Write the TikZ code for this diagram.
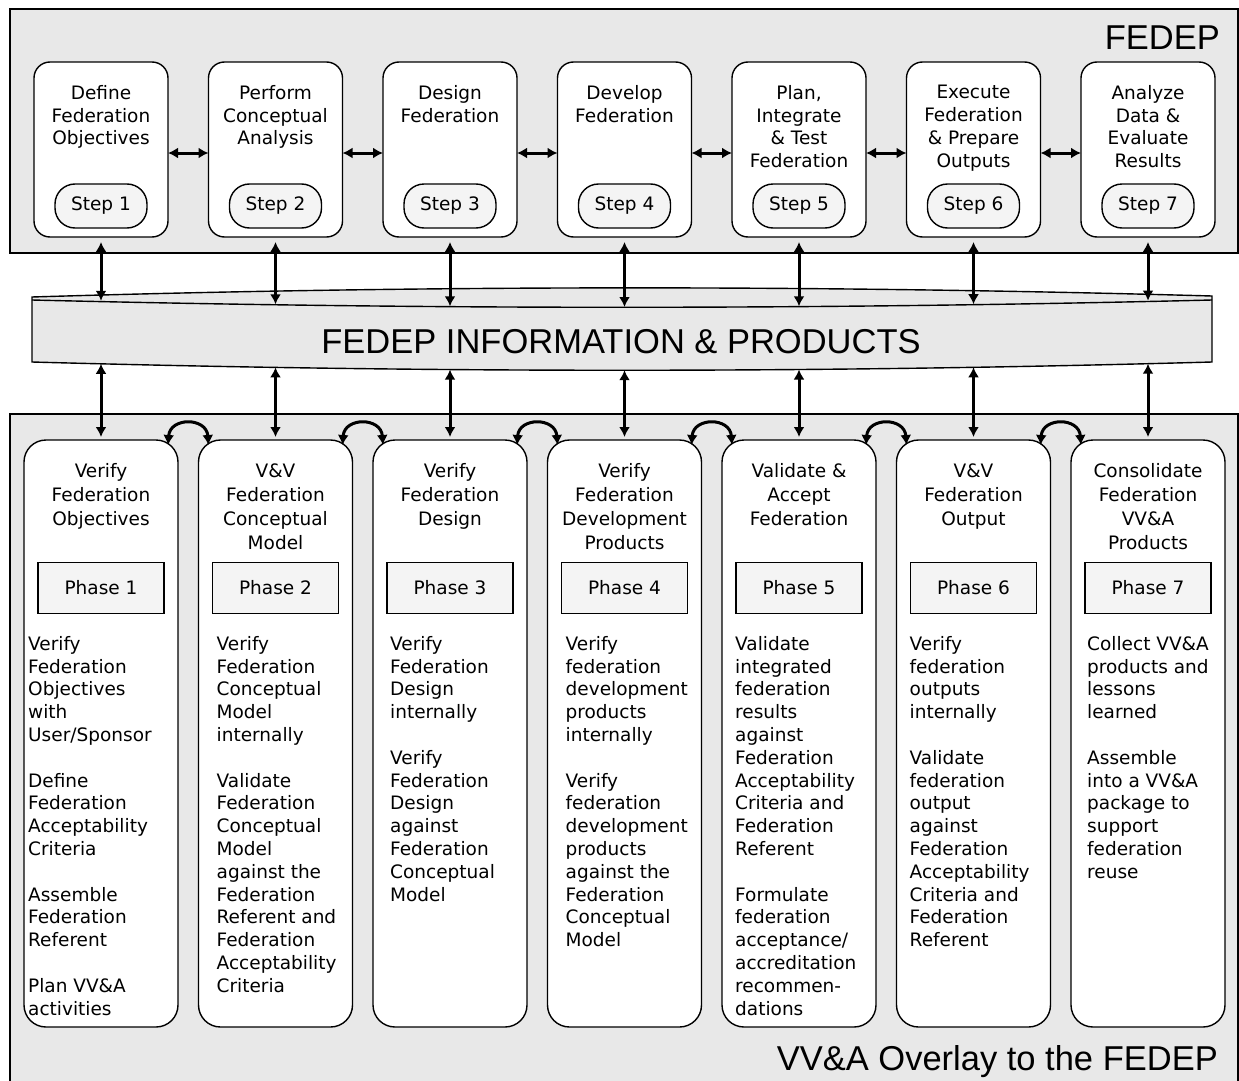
\documentclass[tikz,border=0pt]{standalone}
\usepackage{fontspec}
\setmainfont{DejaVu Sans}
\newfontfamily\bigfont{Liberation Sans}
\usetikzlibrary{positioning,arrows.meta}
\definecolor{panelgray}{HTML}{E8E8E8}
\definecolor{boxgray}{HTML}{F4F4F4}

\begin{document}
\begin{tikzpicture}[
    x=1pt, y=-1pt,
    >={Latex[length=10pt,width=11pt]},
    font=\fontsize{18.5}{22.8}\selectfont,
    panel/.style={rectangle, draw=black, line width=1.5pt, fill=panelgray, outer sep=0pt},
    stepbox/.style={rectangle, rounded corners=16pt, draw=black, line width=1.4pt, fill=white, outer sep=0pt, minimum width=134pt, minimum height=175pt},
    pill/.style={rectangle, rounded corners=20pt, draw=black, line width=1.4pt, fill=boxgray, outer sep=0pt, minimum width=92pt, minimum height=44pt, inner sep=0pt},
    phasecol/.style={rectangle, rounded corners=22pt, draw=black, line width=1.4pt, fill=white, outer sep=0pt, minimum width=154pt, minimum height=587pt},
    phasebox/.style={rectangle, draw=black, line width=1.4pt, fill=boxgray, outer sep=0pt, minimum width=126pt, minimum height=51pt, inner sep=0pt},
    steptext/.style={align=center, inner sep=0pt},
    coltext/.style={align=center, inner sep=0pt, font=\fontsize{18.5}{24}\selectfont},
    bodytext/.style={align=left, inner sep=0pt, anchor=north west},
    bigtext/.style={inner sep=0pt, font=\bigfont\fontsize{34.5}{40}\selectfont},
    link/.style={<->, line width=3pt}
  ]
    \useasboundingbox (0,0) rectangle (1239,1081);
    \clip (0,0) rectangle (1239,1081);

    % FEDEP panel
    \node[panel, minimum width=1228pt, minimum height=244pt] (fedep) at (624,131) {};
    \node[bigtext, anchor=east] (fedeplabel) at (1220,38) {FEDEP};

    \node[stepbox] (s1) at (101,149.5) {};
    \node[stepbox, right=40.5pt of s1] (s2) {};
    \node[stepbox, right=40.5pt of s2] (s3) {};
    \node[stepbox, right=40.5pt of s3] (s4) {};
    \node[stepbox, right=40.5pt of s4] (s5) {};
    \node[stepbox, right=40.5pt of s5] (s6) {};
    \node[stepbox, right=40.5pt of s6] (s7) {};

    \node[steptext, below=23pt of s1.north] (t1) {Define\\Federation\\Objectives};
    \node[steptext, below=23pt of s2.north] (t2) {Perform\\Conceptual\\Analysis};
    \node[steptext, below=23pt of s3.north] (t3) {Design\\Federation};
    \node[steptext, below=23pt of s4.north] (t4) {Develop\\Federation};
    \node[steptext, below=23pt of s5.north] (t5) {Plan,\\Integrate\\\& Test\\Federation};
    \node[steptext, below=23pt of s6.north] (t6) {Execute\\Federation\\\& Prepare\\Outputs};
    \node[steptext, below=23pt of s7.north] (t7) {Analyze\\Data \&\\Evaluate\\Results};

    \node[pill, above=9pt of s1.south] (p1) {Step 1};
    \node[pill, above=9pt of s2.south] (p2) {Step 2};
    \node[pill, above=9pt of s3.south] (p3) {Step 3};
    \node[pill, above=9pt of s4.south] (p4) {Step 4};
    \node[pill, above=9pt of s5.south] (p5) {Step 5};
    \node[pill, above=9pt of s6.south] (p6) {Step 6};
    \node[pill, above=9pt of s7.south] (p7) {Step 7};

    \draw[link] ([yshift=-3.5pt]s1.east) -- ([yshift=-3.5pt]s2.west);
    \draw[link] ([yshift=-3.5pt]s2.east) -- ([yshift=-3.5pt]s3.west);
    \draw[link] ([yshift=-3.5pt]s3.east) -- ([yshift=-3.5pt]s4.west);
    \draw[link] ([yshift=-3.5pt]s4.east) -- ([yshift=-3.5pt]s5.west);
    \draw[link] ([yshift=-3.5pt]s5.east) -- ([yshift=-3.5pt]s6.west);
    \draw[link] ([yshift=-3.5pt]s6.east) -- ([yshift=-3.5pt]s7.west);

    % VV&A overlay panel
    \node[panel, minimum width=1228pt, minimum height=700pt] (overlay) at (624,764) {};
    \node[bigtext, anchor=base east] (vvalabel) at (1218,1070) {VV\&A Overlay to the FEDEP};

    % information band
    \path[draw=black, line width=1.4pt, fill=panelgray]
      (32,362) -- (32,297) .. controls (425,285) and (819,285) .. (1212,296)
      -- (1212,362) .. controls (819,373) and (425,373) .. (32,362) -- cycle;
    \draw[line width=1.4pt] (32,300) .. controls (425,309.7) and (819,309.7) .. (1212,300);
    \node[bigtext] (info) at (621,342) {FEDEP INFORMATION \& PRODUCTS};

    \coordinate (bt1) at (s1.south |- 0,300.8);
    \coordinate (bt2) at (s2.south |- 0,304.3);
    \coordinate (bt3) at (s3.south |- 0,306.3);
    \coordinate (bt4) at (s4.south |- 0,307);
    \coordinate (bt5) at (s5.south |- 0,306.3);
    \coordinate (bt6) at (s6.south |- 0,304.2);
    \coordinate (bt7) at (s7.south |- 0,300.6);
    \coordinate (bb1) at (s1.south |- 0,363.8);
    \coordinate (bb2) at (s2.south |- 0,367.4);
    \coordinate (bb3) at (s3.south |- 0,369.6);
    \coordinate (bb4) at (s4.south |- 0,370.2);
    \coordinate (bb5) at (s5.south |- 0,369.5);
    \coordinate (bb6) at (s6.south |- 0,367.3);
    \coordinate (bb7) at (s7.south |- 0,363.7);

    \draw[link] ([yshift=-5pt]s1.south) -- (bt1);
    \draw[link] ([yshift=-5pt]s2.south) -- (bt2);
    \draw[link] ([yshift=-5pt]s3.south) -- (bt3);
    \draw[link] ([yshift=-5pt]s4.south) -- (bt4);
    \draw[link] ([yshift=-5pt]s5.south) -- (bt5);
    \draw[link] ([yshift=-5pt]s6.south) -- (bt6);
    \draw[link] ([yshift=-5pt]s7.south) -- (bt7);

    % phase columns
    \node[phasecol] (c1) at (101,733.5) {};
    \node[phasecol, right=20.5pt of c1] (c2) {};
    \node[phasecol, right=20.5pt of c2] (c3) {};
    \node[phasecol, right=20.5pt of c3] (c4) {};
    \node[phasecol, right=20.5pt of c4] (c5) {};
    \node[phasecol, right=20.5pt of c5] (c6) {};
    \node[phasecol, right=20.5pt of c6] (c7) {};

    \draw[link] (bb1) -- ([yshift=3pt]c1.north);
    \draw[link] (bb2) -- ([yshift=3pt]c2.north);
    \draw[link] (bb3) -- ([yshift=3pt]c3.north);
    \draw[link] (bb4) -- ([yshift=3pt]c4.north);
    \draw[link] (bb5) -- ([yshift=3pt]c5.north);
    \draw[link] (bb6) -- ([yshift=3pt]c6.north);
    \draw[link] (bb7) -- ([yshift=3pt]c7.north);

    \draw[link] ([xshift=-10pt,yshift=-5pt]c1.north east) .. controls +(2,-28) and +(-2,-28) .. ([xshift=10pt,yshift=-5pt]c2.north west);
    \draw[link] ([xshift=-10pt,yshift=-5pt]c2.north east) .. controls +(2,-28) and +(-2,-28) .. ([xshift=10pt,yshift=-5pt]c3.north west);
    \draw[link] ([xshift=-10pt,yshift=-5pt]c3.north east) .. controls +(2,-28) and +(-2,-28) .. ([xshift=10pt,yshift=-5pt]c4.north west);
    \draw[link] ([xshift=-10pt,yshift=-5pt]c4.north east) .. controls +(2,-28) and +(-2,-28) .. ([xshift=10pt,yshift=-5pt]c5.north west);
    \draw[link] ([xshift=-10pt,yshift=-5pt]c5.north east) .. controls +(2,-28) and +(-2,-28) .. ([xshift=10pt,yshift=-5pt]c6.north west);
    \draw[link] ([xshift=-10pt,yshift=-5pt]c6.north east) .. controls +(2,-28) and +(-2,-28) .. ([xshift=10pt,yshift=-5pt]c7.north west);

    \node[coltext, below=23.5pt of c1.north] (h1) {Verify\\Federation\\Objectives};
    \node[coltext, below=23.5pt of c2.north] (h2) {V\&V\\Federation\\Conceptual\\Model};
    \node[coltext, below=23.5pt of c3.north] (h3) {Verify\\Federation\\Design};
    \node[coltext, below=23.5pt of c4.north] (h4) {Verify\\Federation\\Development\\Products};
    \node[coltext, below=23.5pt of c5.north] (h5) {Validate \&\\Accept\\Federation};
    \node[coltext, below=23.5pt of c6.north] (h6) {V\&V\\Federation\\Output};
    \node[coltext, below=23.5pt of c7.north] (h7) {Consolidate\\Federation\\VV\&A\\Products};

    \node[phasebox, below=122.5pt of c1.north] (ph1) {Phase 1};
    \node[phasebox, below=122.5pt of c2.north] (ph2) {Phase 2};
    \node[phasebox, below=122.5pt of c3.north] (ph3) {Phase 3};
    \node[phasebox, below=122.5pt of c4.north] (ph4) {Phase 4};
    \node[phasebox, below=122.5pt of c5.north] (ph5) {Phase 5};
    \node[phasebox, below=122.5pt of c6.north] (ph6) {Phase 6};
    \node[phasebox, below=122.5pt of c7.north] (ph7) {Phase 7};

    \node[bodytext] (b1) at ([xshift=4pt,yshift=-196pt]c1.north west)
      {Verify\\Federation\\Objectives\\with\\User/Sponsor\\[22.8pt]Define\\Federation\\Acceptability\\Criteria\\[22.8pt]Assemble\\Federation\\Referent\\[22.8pt]Plan VV\&A\\activities};
    \node[bodytext] (b2) at ([xshift=18pt,yshift=-196pt]c2.north west)
      {Verify\\Federation\\Conceptual\\Model\\internally\\[22.8pt]Validate\\Federation\\Conceptual\\Model\\against the\\Federation\\Referent and\\Federation\\Acceptability\\Criteria};
    \node[bodytext] (b3) at ([xshift=17pt,yshift=-196pt]c3.north west)
      {Verify\\Federation\\Design\\internally\\[22.8pt]Verify\\Federation\\Design\\against\\Federation\\Conceptual\\Model};
    \node[bodytext] (b4) at ([xshift=18pt,yshift=-196pt]c4.north west)
      {Verify\\federation\\development\\products\\internally\\[22.8pt]Verify\\federation\\development\\products\\against the\\Federation\\Conceptual\\Model};
    \node[bodytext] (b5) at ([xshift=13pt,yshift=-196pt]c5.north west)
      {Validate\\integrated\\federation\\results\\against\\Federation\\Acceptability\\Criteria and\\Federation\\Referent\\[22.8pt]Formulate\\federation\\acceptance/\\accreditation\\recommen-\\dations};
    \node[bodytext] (b6) at ([xshift=13pt,yshift=-196pt]c6.north west)
      {Verify\\federation\\outputs\\internally\\[22.8pt]Validate\\federation\\output\\against\\Federation\\Acceptability\\Criteria and\\Federation\\Referent};
    \node[bodytext] (b7) at ([xshift=16pt,yshift=-196pt]c7.north west)
      {Collect VV\&A\\products and\\lessons\\learned\\[22.8pt]Assemble\\into a VV\&A\\package to\\support\\federation\\reuse};
\end{tikzpicture}
\end{document}
